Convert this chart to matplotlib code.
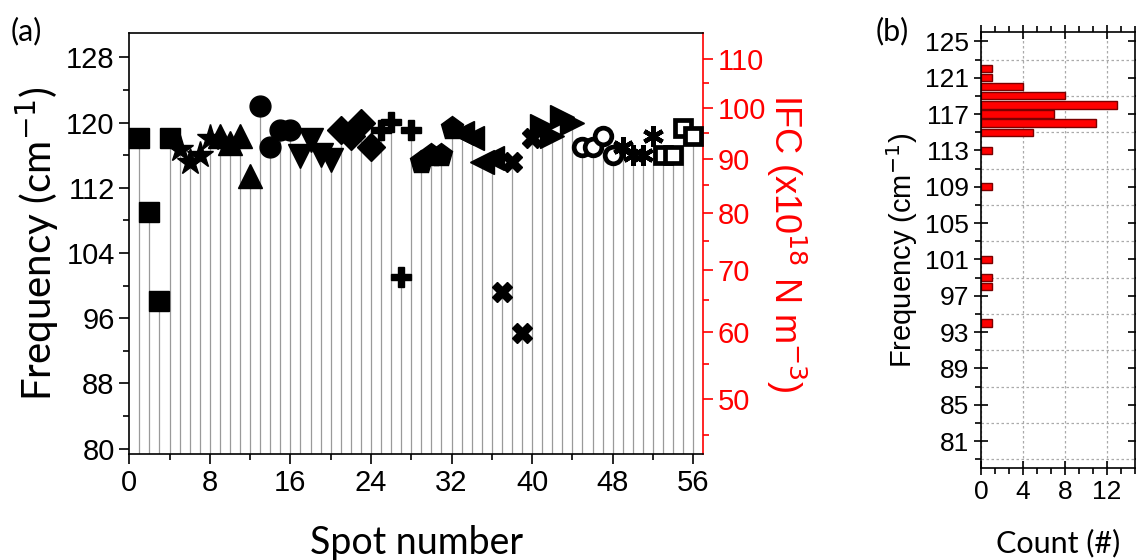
import matplotlib
matplotlib.use("Agg")
import matplotlib.pyplot as plt
import numpy as np
from matplotlib.ticker import MultipleLocator, FixedLocator, AutoMinorLocator

# measured low-frequency mode for each spot (cm^-1), 14 flakes x 4 spots
spots = np.arange(1, 57)
freq = np.array([
    118.1, 109.0, 98.1, 118.1,      # squares
    116.8, 115.2, 116.0, 118.1,     # stars
    118.4, 117.45, 118.4, 113.4,    # up triangles
    122.0, 117.0, 119.1, 119.1,     # circles
    115.9, 117.9, 116.0, 115.4,     # down triangles
    119.1, 118.3, 119.9, 117.0,     # diamonds
    119.1, 120.1, 101.1, 119.1,     # plus
    115.2, 116.0, 116.0, 119.3,     # pentagons
    118.7, 118.1, 115.2, 115.6,     # left triangles
    99.2, 115.2, 94.2, 118.1,       # crosses
    119.6, 118.4, 120.7, 120.0,     # right triangles
    117.0, 117.0, 118.3, 116.0,     # open circles
    117.0, 116.0, 116.0, 118.4,     # asterisks
    116.0, 116.0, 119.3, 118.3,     # open squares
])
group_markers = ['s', '*', '^', 'o', 'v', 'D', 'P', 'p', '<', 'X', '>', 'o', (6, 2, 0), 's']
group_open = [False] * 11 + [True, False, True]
group_sizes = [14, 20, 17, 15, 17, 14, 15, 17, 17, 15, 17, 12, 15, 11]

# IFC scales with frequency squared
k_ifc = 0.00674
ifc_ticks = [50, 60, 70, 80, 90, 100, 110]
ifc_minor = [45, 55, 65, 75, 85, 95, 105]

plt.rcParams['font.family'] = ['Liberation Sans', 'DejaVu Sans']
label_font = 'Lato'

fig = plt.figure(figsize=(11.36, 5.6), dpi=100)

# ---- (a) frequency per spot ----
ax = fig.add_axes([0.1138, 0.1888, 0.5053, 0.7523])
y_lo, y_hi = 79.3, 131.0
ax.vlines(spots, y_lo, freq, color='#9a9a9a', lw=0.9, zorder=1)
for g in range(14):
    sl = slice(4 * g, 4 * g + 4)
    m = group_markers[g]
    if group_open[g]:
        ax.plot(spots[sl], freq[sl], ls='none', marker=m, ms=group_sizes[g],
                mfc='white', mec='black', mew=3.4, zorder=3)
    elif m == (6, 2, 0):
        ax.plot(spots[sl], freq[sl], ls='none', marker=m, ms=group_sizes[g],
                mec='black', mew=3.2, zorder=3)
    else:
        ax.plot(spots[sl], freq[sl], ls='none', marker=m, ms=group_sizes[g],
                color='black', zorder=3)

ax.set_xlim(0, 57)
ax.set_ylim(y_lo, y_hi)
ax.xaxis.set_major_locator(MultipleLocator(8))
ax.xaxis.set_minor_locator(MultipleLocator(4))
ax.yaxis.set_major_locator(MultipleLocator(8))
ax.yaxis.set_minor_locator(MultipleLocator(4))
ax.tick_params(axis='both', which='major', direction='out', length=7, width=1.2,
               labelsize=21, top=False, right=False)
ax.tick_params(axis='both', which='minor', direction='out', length=4, width=1.2,
               top=False, right=False)
ax.spines['right'].set_visible(False)
for s in ['left', 'bottom', 'top']:
    ax.spines[s].set_linewidth(1.2)
ax.set_xlabel('Spot number', fontsize=27, family=label_font, labelpad=20)
ax.set_ylabel('Frequency (cm$^{-1}$)', fontsize=29, family=label_font, labelpad=4)

sec = ax.secondary_yaxis('right', functions=(lambda f: k_ifc * f ** 2,
                                             lambda v: np.sqrt(np.clip(v, 0, None) / k_ifc)))
sec.yaxis.set_major_locator(FixedLocator(ifc_ticks))
sec.yaxis.set_minor_locator(FixedLocator(ifc_minor))
sec.tick_params(which='major', colors='red', direction='out', length=7, width=1.2, labelsize=21)
sec.tick_params(which='minor', colors='red', direction='out', length=4, width=1.2)
sec.spines['right'].set_color('red')
sec.spines['right'].set_linewidth(1.2)
sec.set_ylabel('IFC (x10$^{18}$ N m$^{-3}$)', fontsize=26, color='red',
               rotation=270, labelpad=30)

fig.text(0.009, 0.928, '(a)', fontsize=22, family=label_font)

# ---- (b) histogram of the same frequencies ----
bins, counts = np.unique(np.round(freq), return_counts=True)
axh = fig.add_axes([0.8636, 0.1638, 0.1356, 0.7786])
axh.barh(bins, counts, height=0.8, color='#ff0000', edgecolor='#7a0000', lw=1, zorder=2)
axh.set_xlim(0, 14.7)
axh.set_ylim(78, 126)
axh.xaxis.set_major_locator(MultipleLocator(4))
axh.xaxis.set_minor_locator(AutoMinorLocator(3))
axh.yaxis.set_major_locator(FixedLocator([81, 85, 89, 93, 97, 101, 105, 109, 113, 117, 121, 125]))
axh.yaxis.set_minor_locator(FixedLocator([79, 83, 87, 91, 95, 99, 103, 107, 111, 115, 119, 123]))
axh.grid(axis='x', which='major', ls=(0, (2, 2)), color='#aaaaaa', lw=0.9, zorder=0)
axh.grid(axis='y', which='minor', ls=(0, (2, 2)), color='#aaaaaa', lw=0.9, zorder=0)
axh.tick_params(axis='both', which='major', direction='inout', length=10, width=1.2,
                labelsize=19, top=True, right=True)
axh.tick_params(axis='both', which='minor', direction='out', length=4, width=1.2,
                top=True, right=True)
for s in axh.spines.values():
    s.set_linewidth(1.2)
axh.set_xlabel('Count (#)', fontsize=22, family=label_font, labelpad=18)
axh.set_ylabel('Frequency (cm$^{-1}$)', fontsize=21, labelpad=4)
fig.text(0.771, 0.928, '(b)', fontsize=22, family=label_font)

fig.savefig('out.png', dpi=100)
